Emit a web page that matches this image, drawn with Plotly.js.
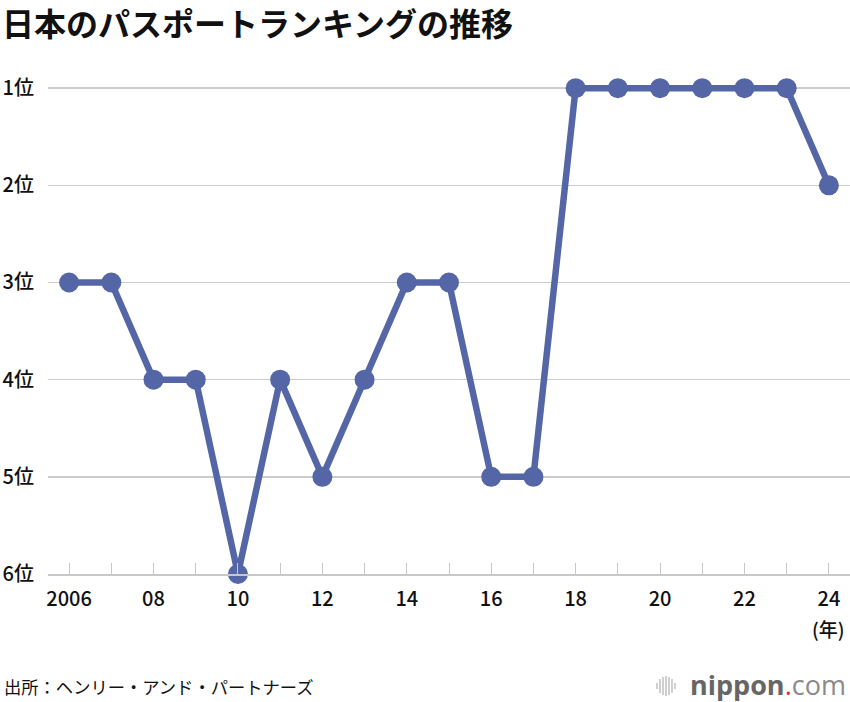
<!DOCTYPE html>
<html>
<head>
<meta charset="utf-8">
<script src="https://cdn.plot.ly/plotly-3.0.1.min.js"></script>
<style>
html,body{margin:0;padding:0;background:#fff;}
#chart{width:850px;height:702px;}
</style>
</head>
<body>
<div id="chart"></div>
<script>
const years = [2006,2007,2008,2009,2010,2011,2012,2013,2014,2015,2016,2017,2018,2019,2020,2021,2022,2023,2024];
const ranks = [3,3,4,4,6,4,5,4,3,3,5,5,1,1,1,1,1,1,2];
const xTickLabels = ['2006','','08','','10','','12','','14','','16','','18','','20','','22','','24'];
const yTickVals = [1,2,3,4,5,6];
const yTickLabels = ['1位','2位','3位','4位','5位','6位'];
const titleText = '日本のパスポートランキングの推移';
const sourceText = '出所：ヘンリー・アンド・パートナーズ';

const W = 850, H = 702, L = 48, R = 0, T = 59, B = 128;
const pw = W - L - R, ph = H - T - B;
function px(x){ return (x - L) / pw; }
function py(y){ return (H - B - y) / ph; }

const font = '"Noto Sans CJK JP", "Noto Sans", sans-serif';
const lineColor = '#5466a5';

// logo icon bars
const bars = [[657,683,689],[660,679,693],[663,677,695],[666,676,696],[669,677,695],[672,679,693],[675,683,689]];
const shapes = bars.map(b => ({
  type:'line', xref:'paper', yref:'paper',
  x0:px(b[0]), x1:px(b[0]), y0:py(b[1]), y1:py(b[2]),
  line:{color:'#c4c4c4', width:1.6}
}));

const data = [{
  x: years, y: ranks, type:'scatter', mode:'lines+markers',
  line:{color:lineColor, width:6.5},
  marker:{color:lineColor, size:20},
  hoverinfo:'skip', cliponaxis:false
}];

const layout = {
  width: W, height: H,
  margin:{l:L, r:R, t:T, b:B},
  paper_bgcolor:'#fff', plot_bgcolor:'#fff',
  showlegend:false,
  font:{family:font, color:'#111'},
  xaxis:{
    range:[2005.5, 2024.5], fixedrange:true,
    tickmode:'array', tickvals:years, ticktext:xTickLabels,
    ticks:'inside', ticklen:11, tickwidth:1, tickcolor:'#c8c8c8',
    showgrid:false, zeroline:false,
    showline:true, linecolor:'#c8c8c8', linewidth:1.5,
    tickfont:{size:20, color:'#111', family:font, weight:500},
    ticklabelstandoff:6
  },
  yaxis:{
    range:[6, 0.7], fixedrange:true,
    tickmode:'array', tickvals:yTickVals, ticktext:yTickLabels,
    ticks:'', showgrid:true, gridcolor:'#cccccc', gridwidth:1.5,
    zeroline:false, showline:false,
    tickfont:{size:20, color:'#111', family:font, weight:500},
    ticklabelstandoff:13
  },
  shapes: shapes,
  annotations:[
    {text:'<b>'+titleText+'</b>', xref:'paper', yref:'paper', x:px(1), y:py(22),
     xanchor:'left', yanchor:'middle', showarrow:false, borderpad:0,
     font:{size:32, color:'#111', family:font}},
    {text:'(年)', xref:'x', yref:'paper', x:2024, y:py(628),
     xanchor:'center', yanchor:'middle', showarrow:false,
     font:{size:19, color:'#111', family:font, weight:500}},
    {text:sourceText, xref:'paper', yref:'paper', x:px(2), y:py(686),
     xanchor:'left', yanchor:'middle', showarrow:false,
     font:{size:17.3, color:'#111', family:font}},
    {text:'<b>nippon</b><span style="color:#e8262b">.</span><span style="color:#8a8a8a">com</span>',
     xref:'paper', yref:'paper', x:px(847), y:py(684),
     xanchor:'right', yanchor:'middle', showarrow:false, borderpad:0,
     font:{size:27, color:'#666', family:'"Open Sans", "Noto Sans", sans-serif'}}
  ]
};

Plotly.newPlot('chart', data, layout, {displayModeBar:false, staticPlot:true});
</script>
</body>
</html>
